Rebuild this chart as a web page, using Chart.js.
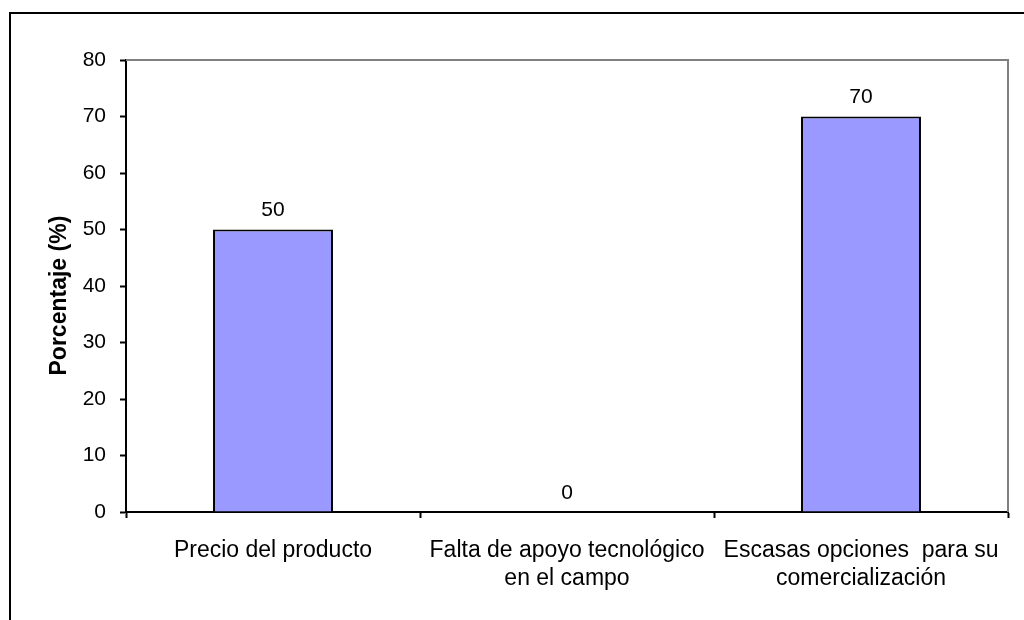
<!DOCTYPE html>
<html>
<head>
<meta charset="utf-8">
<script src="https://cdn.jsdelivr.net/npm/chart.js@4.4.1/dist/chart.umd.min.js"></script>
<style>
  html, body { margin: 0; padding: 0; background: #fff; }
  #wrap { position: relative; width: 1024px; height: 620px; }
  #frame {
    position: absolute; left: 9px; top: 12px; right: -10px; bottom: -10px;
    border-left: 2px solid #000; border-top: 2px solid #000;
    pointer-events: none;
  }
</style>
</head>
<body>
<div id="wrap">
  <canvas id="chart" width="1024" height="620"></canvas>
  <div id="frame"></div>
</div>
<script>
const categories = [
  "Precio del producto",
  ["Falta de apoyo tecnológico", "en el campo"],
  ["Escasas opciones  para su", "comercialización"]
];
const values = [50, 0, 70];
const yTicks = { min: 0, max: 80, step: 10 };
// trailing spaces nudge the rotated title a bit lower, like the original
const yTitle = "Porcentaje (%)   ";

const FONT = "'Liberation Sans', Arial, sans-serif";

// gray box on top/right of the plot area
const plotBox = {
  id: "plotBox",
  beforeDatasetsDraw(chart) {
    const { ctx, chartArea: a } = chart;
    ctx.save();
    ctx.strokeStyle = "#808080";
    ctx.lineWidth = 2;
    ctx.beginPath();
    ctx.moveTo(a.left, a.top);
    ctx.lineTo(a.right, a.top);
    ctx.lineTo(a.right, a.bottom);
    ctx.stroke();
    ctx.restore();
  }
};

// value labels above the bars
const valueLabels = {
  id: "valueLabels",
  afterDatasetsDraw(chart) {
    const { ctx } = chart;
    const meta = chart.getDatasetMeta(0);
    ctx.save();
    ctx.font = "21px " + FONT;
    ctx.fillStyle = "#000";
    ctx.textAlign = "center";
    ctx.textBaseline = "middle";
    meta.data.forEach((bar, i) => {
      ctx.fillText(String(values[i]), bar.x, bar.y - 19);
    });
    ctx.restore();
  }
};

new Chart(document.getElementById("chart").getContext("2d"), {
  type: "bar",
  data: {
    labels: categories,
    datasets: [{
      data: values,
      backgroundColor: "#9999FF",
      borderColor: "#000",
      borderWidth: 2,
      borderSkipped: "bottom",
      categoryPercentage: 1,
      barPercentage: 0.408
    }]
  },
  options: {
    responsive: false,
    animation: false,
    events: [],
    layout: { padding: { top: 60, right: 16, left: 0, bottom: 0 } },
    plugins: { legend: { display: false }, tooltip: { enabled: false } },
    scales: {
      x: {
        grid: { drawOnChartArea: false, tickLength: 6, tickColor: "#000", tickWidth: 2, offset: true },
        border: { color: "#000", width: 2 },
        ticks: { color: "#000", padding: 19, maxRotation: 0, autoSkip: false,
                 font: { family: FONT, size: 23, lineHeight: 1.2 } },
        afterFit(scale) { scale.height = 108; }
      },
      y: {
        min: yTicks.min,
        max: yTicks.max,
        grid: { drawOnChartArea: false, tickLength: 6, tickColor: "#000", tickWidth: 2 },
        border: { color: "#000", width: 2 },
        ticks: { stepSize: yTicks.step, color: "#000", padding: 14,
                 font: { family: FONT, size: 21 } },
        title: {
          display: true, text: yTitle, color: "#000",
          padding: { top: 46, bottom: 0 },
          font: { family: FONT, size: 23, weight: "bold", lineHeight: 1.2 }
        },
        afterFit(scale) { scale.width = 126; }
      }
    }
  },
  plugins: [plotBox, valueLabels]
});
</script>
</body>
</html>
